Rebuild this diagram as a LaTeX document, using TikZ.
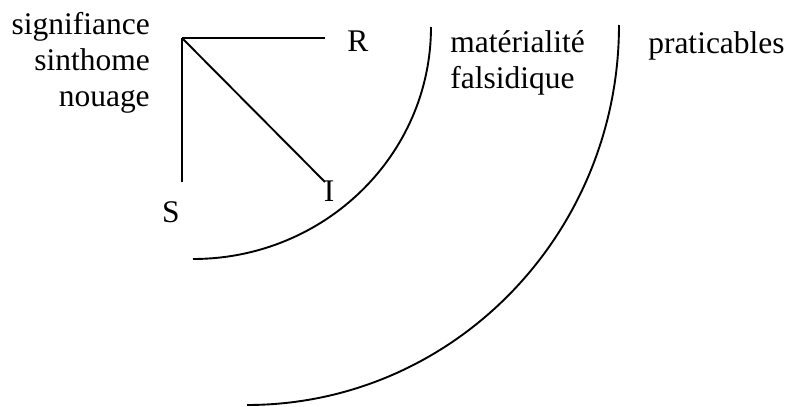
\documentclass[tikz,border=0pt]{standalone}
\usepackage{fontspec}
\setmainfont{Liberation Serif}
\usepackage{tikz}
\usetikzlibrary{positioning}

\begin{document}
\begin{tikzpicture}[
    word/.style={inner sep=0pt, font=\fontsize{22.4}{26}\selectfont},
    leg/.style={black, line width=1.35pt},
    ring/.style={black, line width=1.35pt}
]
\useasboundingbox (0,0) rectangle (19.675,10.15);
\coordinate (knot) at (4.55,9.2);
\coordinate (rEnd) at (8.125,9.2);
\coordinate (sEnd) at (4.55,5.6);
\coordinate (iEnd) at (8.125,5.6);
\node[word, anchor=base east] (sig) at (3.75,9.3) {signifiance};
\node[word, anchor=base east] (sin) at (3.75,8.375) {sinthome};
\node[word, anchor=base east] (nou) at (3.75,7.475) {nouage};
\node[word, anchor=base west] (R) at (8.675,8.875) {R};
\node[word, anchor=base] (I) at (8.225,5.125) {I};
\node[word, anchor=base] (S) at (4.275,4.6) {S};
\node[word, anchor=base west] (mat) at (11.25,8.85) {matérialité};
\node[word, anchor=base west] (fal) at (11.25,7.95) {falsidique};
\node[word, anchor=base west] (pra) at (16.2,8.825) {praticables};
\draw[leg] (knot) -- (rEnd);
\draw[leg] (knot) -- (sEnd);
\draw[leg] (knot) -- (iEnd);
\draw[ring] (10.775,9.475) arc[start angle=0, end angle=-90, x radius=5.95, y radius=5.8];
\draw[ring] (15.475,9.525) arc[start angle=0, end angle=-90, x radius=9.3, y radius=9.5];
\end{tikzpicture}
\end{document}
